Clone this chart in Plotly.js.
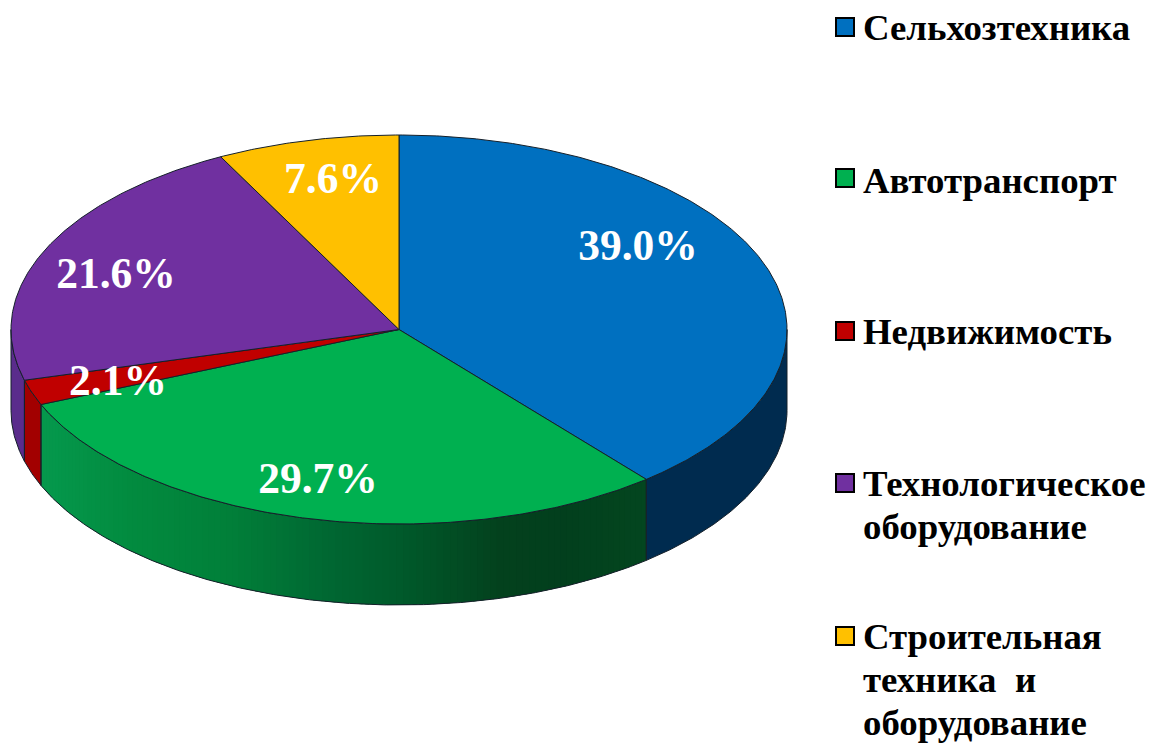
<!DOCTYPE html>
<html><head><meta charset="utf-8">
<script src="https://cdn.plot.ly/plotly-3.0.1.min.js"></script>
<style>html,body{margin:0;padding:0;background:#fff}#c{width:1152px;height:743px}</style>
</head><body><div id="c"></div>
<script>
const categories = ['Сельхозтехника','Автотранспорт','Недвижимость','Технологическое<br>оборудование','Строительная<br>техника  и<br>оборудование'];
const shares = [39.0, 29.7, 2.1, 21.6, 7.6];
const topColors = ['#0070c0','#00b050','#c00000','#7030a0','#ffc000'];
const wallColors = ['#002b4f', null, '#a20000', '#5a2c8c', '#cc9900'];
const greenRamp = [[41,'#05994d'],[130,'#028b3f'],[230,'#017f39'],[330,'#006732'],[400,'#005a2b'],[500,'#03411d'],[560,'#023f1d'],[647,'#03461f']];
const cx = 399, cy = 329.5, rx = 388, ry = 194.5, depth = 81;
const outline = '#15202a';
const labelX = [638,318,118,116,333];
const labelY = [249,482,384,277,182];
const swatchX = [845,845,845,845,845];
const swatchY = [27,178,331,483,636];
const textY = [27.5,180.5,331.5,483.5,636];
const lineGap = 43.4;

const total = shares.reduce((a,b)=>a+b,0);
const pt = (deg,dy=0)=>{const r=deg*Math.PI/180;return [cx+rx*Math.sin(r), cy-ry*Math.cos(r)+dy];};
const hex = c=>[1,3,5].map(i=>parseInt(c.substr(i,2),16));
function ramp(x){
  for(let i=1;i<greenRamp.length;i++){
    if(x<=greenRamp[i][0]){
      const [x0,c0]=greenRamp[i-1],[x1,c1]=greenRamp[i];
      const f=Math.max(0,(x-x0)/(x1-x0)),a=hex(c0),b=hex(c1);
      return 'rgb('+a.map((v,k)=>Math.round(v+(b[k]-v)*f)).join(',')+')';
    }
  }
  return greenRamp[greenRamp.length-1][1];
}
function arc(a0,a1,dy=0){
  const n=Math.max(2,Math.ceil(Math.abs(a1-a0)*2)),o=[];
  for(let i=0;i<=n;i++)o.push(pt(a0+(a1-a0)*i/n,dy));
  return o;
}
function poly(points,fill,lineColor,width){
  return {type:'scatter',mode:'lines',x:points.map(p=>p[0]),y:points.map(p=>p[1]),
    fill:'toself',fillcolor:fill,line:{color:lineColor||fill,width:lineColor?(width||1):0,shape:'linear'},
    hoverinfo:'skip',showlegend:false};
}
const traces=[];
let acc=0;
const spans=shares.map(v=>{const s=[acc/total*360,(acc+v)/total*360];acc+=v;return s;});
spans.forEach((s,i)=>{
  const a0=Math.max(s[0],90),a1=Math.min(s[1],270);
  if(a1<=a0)return;
  const shape=[...arc(a0,a1),...arc(a1,a0,depth)];
  if(wallColors[i]){
    traces.push(poly([...shape,shape[0]],wallColors[i]));
  }else{
    const step=1;
    for(let a=a0;a<a1;a+=step){
      const e=Math.min(a+step*1.6,a1);
      const q=[...arc(a,e),...arc(e,a,depth)];
      traces.push(poly([...q,q[0]],ramp(pt(a+step/2)[0])));
    }
  }
});
spans.forEach((s,i)=>{
  const a0=Math.max(s[0],90),a1=Math.min(s[1],270);
  if(a1<=a0)return;
  const shape=[...arc(a0,a1),...arc(a1,a0,depth)];
  traces.push(poly([...shape,shape[0]],'rgba(0,0,0,0)',outline,1));
});
spans.forEach((s,i)=>{
  const q=[[cx,cy],...arc(s[0],s[1]),[cx,cy]];
  traces.push(poly(q,topColors[i],outline,1));
});
traces.push({type:'scatter',mode:'text',x:labelX,y:labelY,text:shares.map(v=>v.toFixed(1)+'%'),
  textposition:'middle center',textfont:{family:'"Liberation Serif",serif',size:43.5,color:'#ffffff',weight:700},
  hoverinfo:'skip',showlegend:false,cliponaxis:false});
traces.push({type:'scatter',mode:'markers',x:swatchX,y:swatchY,
  marker:{symbol:'square',size:18,color:topColors,line:{color:'#000',width:2}},hoverinfo:'skip',showlegend:false});
const annotations=[];
categories.forEach((c,i)=>c.split('<br>').forEach((line,k)=>annotations.push({xref:'x',yref:'y',x:862,y:textY[i]+k*lineGap,
  text:'<b>'+line.replace(/  /g,' \u00a0')+'</b>',showarrow:false,xanchor:'left',yanchor:'middle',align:'left',borderpad:0,
  font:{family:'"Liberation Serif",serif',size:36.8,color:'#000'}})));
Plotly.newPlot('c',traces,{width:1152,height:743,margin:{l:0,r:0,t:0,b:0,pad:0},
  paper_bgcolor:'#fff',plot_bgcolor:'#fff',showlegend:false,hovermode:false,
  xaxis:{range:[0,1152],visible:false,fixedrange:true},
  yaxis:{range:[743,0],visible:false,fixedrange:true},
  annotations},{staticPlot:true,displayModeBar:false});
</script></body></html>
